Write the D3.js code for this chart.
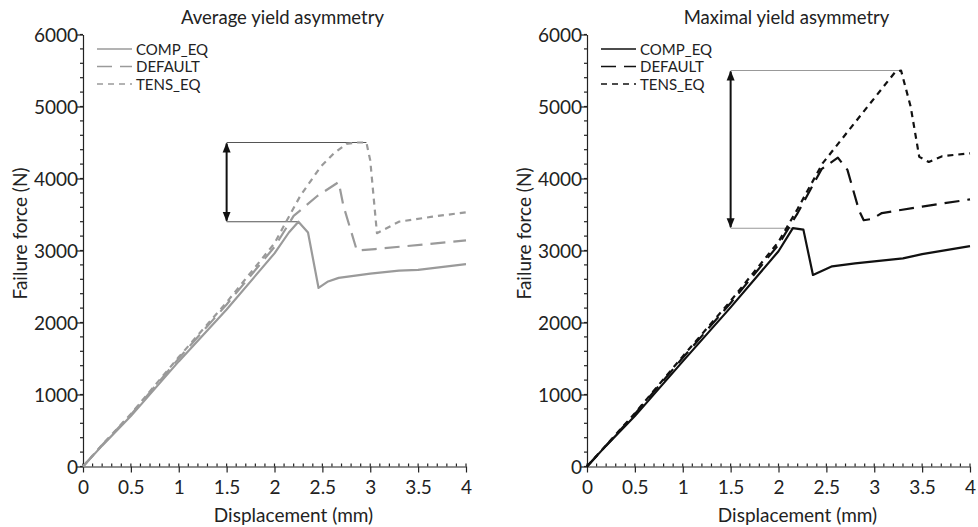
<!DOCTYPE html>
<html>
<head>
<meta charset="utf-8">
<script src="https://cdn.jsdelivr.net/npm/d3@7"></script>
<style>
  body { margin: 0; background: #fff; }
  svg { display: block; font-family: "Gill Sans", Lato, "Open Sans", sans-serif; }
</style>
</head>
<body>
<svg id="chart" width="978" height="527"></svg>
<script>
// displacement (mm) / failure force (N)
const seriesNames = ["COMP_EQ", "DEFAULT", "TENS_EQ"];
const xTicks = [0, 0.5, 1, 1.5, 2, 2.5, 3, 3.5, 4];
const yTicks = [0, 1000, 2000, 3000, 4000, 5000, 6000];

const avgComp = [[0,0],[0.2,290],[0.5,700],[1.0,1460],[1.5,2180],[2.0,2960],[2.15,3250],[2.25,3400],[2.35,3250],[2.46,2480],[2.56,2570],[2.67,2620],[3.0,2680],[3.3,2720],[3.5,2730],[4.0,2810]];
const avgDefault = [[0,0],[0.2,300],[0.5,720],[1.0,1500],[1.5,2250],[2.0,3050],[2.2,3480],[2.45,3760],[2.67,3950],[2.72,3620],[2.86,3000],[3.05,3020],[4.0,3140]];
const avgTens = [[0,0],[0.2,300],[0.5,730],[1.0,1520],[1.5,2280],[2.0,3100],[2.13,3420],[2.27,3760],[2.48,4160],[2.62,4350],[2.75,4480],[2.85,4500],[2.96,4500],[3.0,4250],[3.07,3240],[3.3,3400],[3.65,3470],[4.0,3530]];

const maxComp = [[0,0],[0.2,290],[0.5,700],[1.0,1460],[1.5,2210],[2.0,2990],[2.15,3310],[2.26,3290],[2.36,2660],[2.56,2780],[2.8,2820],[3.0,2850],[3.3,2890],[3.5,2950],[4.0,3060]];
const maxDefault = [[0,0],[0.5,730],[1.0,1510],[1.5,2270],[2.0,3080],[2.2,3520],[2.45,4130],[2.62,4290],[2.72,4120],[2.84,3560],[2.89,3420],[2.98,3440],[3.08,3520],[3.5,3610],[4.0,3710]];
const maxTens = [[0,0],[0.5,740],[1.0,1530],[1.5,2300],[2.0,3120],[2.2,3580],[2.46,4210],[2.8,4780],[3.15,5365],[3.22,5480],[3.28,5500],[3.38,5000],[3.47,4300],[3.57,4230],[3.71,4310],[4.0,4350]];

// annotation: [x of arrow, low force, high force, end of low line, end of high line]
const avgGap = [1.5, 3400, 4500, 2.25, 2.96];
const maxGap = [1.5, 3310, 5500, 2.15, 3.28];

const panels = [
  { title: "Average yield asymmetry", left: 83, color: "#9a9a9a", guide: "#555", data: [avgComp, avgDefault, avgTens], gap: avgGap },
  { title: "Maximal yield asymmetry", left: 587, color: "#111", guide: "#999", data: [maxComp, maxDefault, maxTens], gap: maxGap }
];
const dashes = [null, "15,8", "6,5"];

const svg = d3.select("#chart");
const defs = svg.append("defs");
["start", "end"].forEach(k => {
  defs.append("marker")
    .attr("id", "arrow-" + k)
    .attr("viewBox", "0 0 10 10")
    .attr("refX", 9).attr("refY", 5)
    .attr("markerWidth", 5).attr("markerHeight", 7)
    .attr("markerUnits", "strokeWidth")
    .attr("orient", k === "start" ? "auto-start-reverse" : "auto")
    .append("path")
    .attr("d", "M0,1 L10,5 L0,9 z")
    .attr("fill", "#111");
});

panels.forEach(p => {
  const x = d3.scaleLinear().domain([0, 4]).range([p.left, p.left + 383]);
  const y = d3.scaleLinear().domain([0, 6000]).range([466.5, 34.5]);
  const g = svg.append("g");

  // axes
  const xAxis = g.append("g").attr("transform", `translate(0,${y(0)})`)
    .call(d3.axisBottom(x).tickValues(xTicks).tickSize(6).tickSizeOuter(0)
      .tickFormat(d => d));
  xAxis.append("g").selectAll("line")
    .data(d3.range(0, 41).map(i => i / 10))
    .join("line")
    .attr("x1", d => x(d)).attr("x2", d => x(d))
    .attr("y1", 0).attr("y2", -3)
    .attr("stroke", "#222");
  xAxis.selectAll(".tick text").attr("y", 10).attr("dy", "0.9em");

  const yAxis = g.append("g").attr("transform", `translate(${x(0)},0)`)
    .call(d3.axisLeft(y).tickValues(yTicks).tickSize(6).tickSizeOuter(0)
      .tickFormat(d => d));
  yAxis.append("g").selectAll("line")
    .data(d3.range(0, 31).map(i => i * 200))
    .join("line")
    .attr("y1", d => y(d)).attr("y2", d => y(d))
    .attr("x1", 0).attr("x2", -3)
    .attr("stroke", "#222");
  yAxis.selectAll(".tick text").attr("x", -5).attr("dy", "0.36em");

  [xAxis, yAxis].forEach(a => {
    a.selectAll("text").attr("font-size", 19).attr("fill", "#222")
      .attr("font-family", "\"Gill Sans\", Lato, sans-serif");
    a.selectAll(".domain, line").attr("stroke", "#222").attr("stroke-width", 1.2);
  });

  // labels
  g.append("text").attr("x", x(2) + 8).attr("y", 24)
    .attr("text-anchor", "middle").attr("font-size", 18.5).attr("fill", "#222")
    .text(p.title);
  g.append("text").attr("x", x(2) + 19).attr("y", 522)
    .attr("text-anchor", "middle").attr("font-size", 19).attr("fill", "#222")
    .text("Displacement (mm)");
  g.append("text")
    .attr("transform", `translate(${p.left - 56},${y(3000) - 17}) rotate(-90)`)
    .attr("text-anchor", "middle").attr("font-size", 19).attr("fill", "#222")
    .text("Failure force (N)");

  // annotation
  const [ax, lo, hi, loEnd, hiEnd] = p.gap;
  g.append("line").attr("x1", x(ax)).attr("x2", x(hiEnd))
    .attr("y1", y(hi)).attr("y2", y(hi))
    .attr("stroke", p.guide).attr("stroke-width", 1.1);
  g.append("line").attr("x1", x(ax)).attr("x2", x(loEnd))
    .attr("y1", y(lo)).attr("y2", y(lo))
    .attr("stroke", p.guide).attr("stroke-width", 1.1);
  g.append("line").attr("x1", x(ax)).attr("x2", x(ax))
    .attr("y1", y(lo) - 1).attr("y2", y(hi) + 1)
    .attr("stroke", "#111").attr("stroke-width", 2)
    .attr("marker-start", "url(#arrow-start)")
    .attr("marker-end", "url(#arrow-end)");

  // series
  const line = d3.line().x(d => x(d[0])).y(d => y(d[1]));
  p.data.forEach((s, i) => {
    g.append("path").datum(s)
      .attr("d", line)
      .attr("fill", "none")
      .attr("stroke", p.color)
      .attr("stroke-width", 2.2)
      .attr("stroke-linejoin", "round")
      .attr("stroke-dasharray", dashes[i]);
  });

  // legend
  const lg = g.append("g").attr("transform", `translate(${p.left + 14},49)`);
  seriesNames.forEach((name, i) => {
    const row = lg.append("g").attr("transform", `translate(0,${i * 17.5})`);
    row.append("line").attr("x1", 0).attr("x2", 35).attr("y1", 0).attr("y2", 0)
      .attr("stroke", p.color).attr("stroke-width", 1.5)
      .attr("stroke-dasharray", dashes[i]);
    row.append("text").attr("x", 39).attr("y", 5.5)
      .attr("font-size", 15).attr("fill", "#222")
      .text(name);
  });
});
</script>
</body>
</html>
